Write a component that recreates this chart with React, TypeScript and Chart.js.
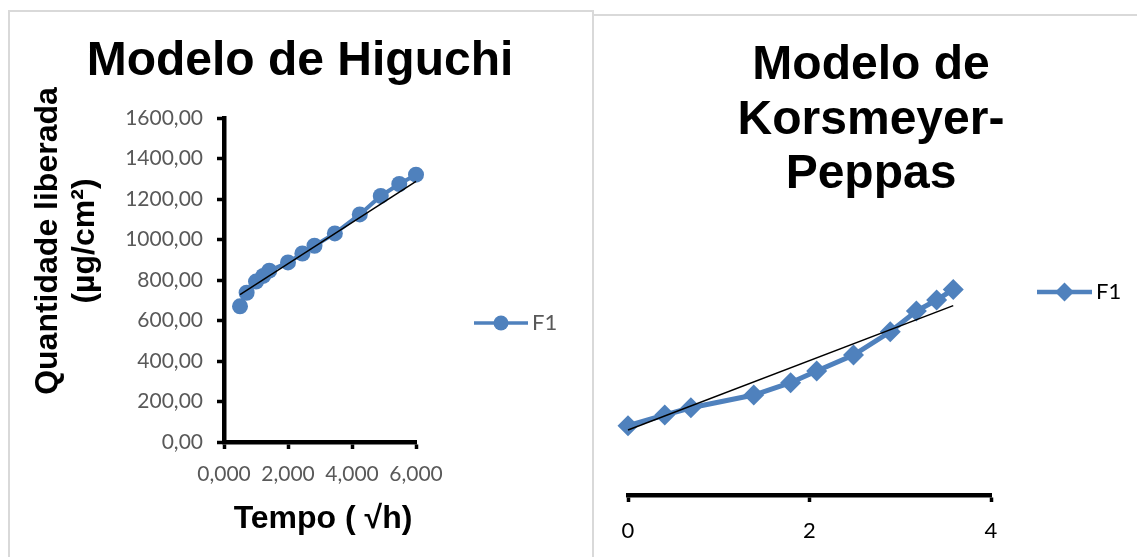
import React, { useEffect, useRef } from "react";
import { Chart, registerables } from "chart.js";

Chart.register(...registerables);

// Higuchi model: released amount vs square root of time
const higuchiSqrtTime = [0.5, 0.707, 1.0, 1.225, 1.414, 2.0, 2.449, 2.828, 3.464, 4.243, 4.899, 5.477, 6.0];
const higuchiReleased = [670, 737, 792, 820, 846, 887, 931, 969, 1030, 1124, 1215, 1274, 1320];
const higuchiTrendX = [0.5, 6.0];
const higuchiTrendY = [728, 1287];

// Korsmeyer-Peppas model: ln(released) vs ln(time)
const kpLnTime = [0, 0.405, 0.693, 1.386, 1.792, 2.079, 2.485, 2.89, 3.178, 3.401, 3.584];
const kpLnReleased = [6.66, 6.7, 6.727, 6.775, 6.821, 6.865, 6.925, 7.012, 7.09, 7.131, 7.171];
const kpTrendX = [0, 3.584];
const kpTrendY = [6.644, 7.11];

const seriesName = "F1";
const higuchiTitle = ["Modelo de Higuchi"];
const kpTitle = ["Modelo de", "Korsmeyer-", "Peppas"];
const higuchiYTitle = ["Quantidade liberada", "(µg/cm²)"];
const higuchiXTitle = "Tempo ( √h)";

const BLUE = "#4F81BD";
const TITLE_FONT = "bold 48px 'Liberation Sans', Arial, sans-serif";
const AXIS_TITLE_FONT = "bold 32px 'Liberation Sans', Arial, sans-serif";
const LABEL_FONT = "Lato";

const toPoints = (xs: number[], ys: number[]) => xs.map((x, i) => ({ x, y: ys[i] }));

// Draws the chart titles, axis titles and an Excel-like legend entry
const panelText = {
  id: "panelText",
  afterDraw(chart: any, _args: any, opts: any) {
    const ctx: CanvasRenderingContext2D = chart.ctx;
    ctx.save();
    ctx.fillStyle = "#000";
    ctx.font = TITLE_FONT;
    ctx.textAlign = "center";
    ctx.textBaseline = "alphabetic";
    opts.title.forEach((line: string, i: number) => {
      ctx.fillText(line, opts.titleX, opts.titleBaselines[i]);
    });

    ctx.font = AXIS_TITLE_FONT;
    if (opts.yTitle) {
      opts.yTitle.forEach((line: string, i: number) => {
        ctx.save();
        ctx.translate(opts.yTitleBaselines[i], opts.yTitleCenter);
        ctx.rotate(-Math.PI / 2);
        ctx.fillText(line, 0, 0);
        ctx.restore();
      });
    }
    if (opts.xTitle) {
      ctx.fillText(opts.xTitle, opts.xTitleX, opts.xTitleBaseline);
    }

    const lg = opts.legend;
    ctx.strokeStyle = BLUE;
    ctx.fillStyle = BLUE;
    ctx.lineWidth = lg.lineWidth;
    ctx.lineCap = "butt";
    ctx.beginPath();
    ctx.moveTo(lg.x, lg.y);
    ctx.lineTo(lg.x + lg.len, lg.y);
    ctx.stroke();
    const cx = lg.x + lg.len / 2;
    ctx.beginPath();
    if (lg.marker === "circle") {
      ctx.arc(cx, lg.y, lg.r, 0, Math.PI * 2);
    } else {
      ctx.moveTo(cx, lg.y - lg.r);
      ctx.lineTo(cx + lg.r, lg.y);
      ctx.lineTo(cx, lg.y + lg.r);
      ctx.lineTo(cx - lg.r, lg.y);
      ctx.closePath();
    }
    ctx.fill();
    ctx.fillStyle = lg.color;
    ctx.font = `22px ${LABEL_FONT}`;
    ctx.textAlign = "left";
    ctx.textBaseline = "middle";
    ctx.fillText(lg.text, lg.x + lg.len + 4, lg.y);
    ctx.restore();
  },
};

const axisLook = {
  grid: {
    display: true,
    drawOnChartArea: false,
    drawTicks: true,
    tickLength: 7,
    tickWidth: 3.5,
    tickColor: "#000",
    color: "#000",
  },
  border: { display: true, color: "#000", width: 4.5 },
};

export default function App() {
  const leftRef = useRef<HTMLCanvasElement>(null);
  const rightRef = useRef<HTMLCanvasElement>(null);

  useEffect(() => {
    const higuchi = new Chart(leftRef.current as HTMLCanvasElement, {
      type: "line",
      data: {
        datasets: [
          {
            label: "trend",
            data: toPoints(higuchiTrendX, higuchiTrendY),
            borderColor: "#000",
            borderWidth: 1.5,
            pointRadius: 0,
            order: 0,
            clip: false,
          },
          {
            label: seriesName,
            data: toPoints(higuchiSqrtTime, higuchiReleased),
            borderColor: BLUE,
            backgroundColor: BLUE,
            pointBackgroundColor: BLUE,
            borderWidth: 4,
            pointRadius: 8,
            pointBorderWidth: 0,
            pointStyle: "circle",
            order: 1,
            clip: false,
          },
        ],
      } as any,
      options: {
        responsive: false,
        animation: false,
        layout: { padding: { top: 118, left: 0, right: 178, bottom: 0 } },
        plugins: {
          legend: { display: false },
          title: { display: false },
          tooltip: { enabled: false },
          panelText: {
            title: higuchiTitle,
            titleX: 300,
            titleBaselines: [75],
            yTitle: higuchiYTitle,
            yTitleBaselines: [57, 94],
            yTitleCenter: 241,
            xTitle: higuchiXTitle,
            xTitleX: 323,
            xTitleBaseline: 528,
            legend: { x: 474, y: 323, len: 54, r: 7.5, lineWidth: 3.5, marker: "circle", text: seriesName, color: "#595959" },
          },
        } as any,
        scales: {
          x: {
            type: "linear",
            min: 0,
            max: 6,
            ...axisLook,
            ticks: {
              stepSize: 2,
              autoSkip: false,
              maxRotation: 0,
              padding: 13,
              color: "#595959",
              font: { family: LABEL_FONT, size: 21 },
              callback: (v: any) => Number(v).toFixed(3).replace(".", ","),
            },
            afterFit: (s: any) => {
              s.height = 115;
            },
          },
          y: {
            type: "linear",
            min: 0,
            max: 1600,
            ...axisLook,
            ticks: {
              stepSize: 200,
              padding: 14,
              color: "#595959",
              font: { family: LABEL_FONT, size: 21 },
              callback: (v: any) => Number(v).toFixed(2).replace(".", ","),
            },
            afterFit: (s: any) => {
              s.width = 224;
            },
          },
        },
      },
      plugins: [panelText as any],
    });

    const peppas = new Chart(rightRef.current as HTMLCanvasElement, {
      type: "line",
      data: {
        datasets: [
          {
            label: "trend",
            data: toPoints(kpTrendX, kpTrendY),
            borderColor: "#000",
            borderWidth: 1.5,
            pointRadius: 0,
            order: 0,
            clip: false,
          },
          {
            label: seriesName,
            data: toPoints(kpLnTime, kpLnReleased),
            borderColor: BLUE,
            backgroundColor: BLUE,
            pointBackgroundColor: BLUE,
            borderWidth: 5,
            pointRadius: 10.5,
            pointBorderWidth: 0,
            pointStyle: "rectRot",
            order: 1,
            clip: false,
          },
        ],
      } as any,
      options: {
        responsive: false,
        animation: false,
        layout: { padding: { top: 255, left: 34, right: 146, bottom: 0 } },
        plugins: {
          legend: { display: false },
          title: { display: false },
          tooltip: { enabled: false },
          panelText: {
            title: kpTitle,
            titleX: 277,
            titleBaselines: [78.5, 133.5, 187.5],
            legend: { x: 443, y: 292, len: 55, r: 9.5, lineWidth: 4.5, marker: "diamond", text: seriesName, color: "#000" },
          },
        } as any,
        scales: {
          x: {
            type: "linear",
            min: 0,
            max: 4,
            ...axisLook,
            ticks: {
              stepSize: 2,
              autoSkip: false,
              maxRotation: 0,
              padding: 16,
              color: "#000",
              font: { family: LABEL_FONT, size: 22 },
            },
            afterFit: (s: any) => {
              s.height = 62;
            },
          },
          y: {
            type: "linear",
            display: false,
            min: 6.4,
            max: 7.3,
          },
        },
      },
      plugins: [panelText as any],
    });

    return () => {
      higuchi.destroy();
      peppas.destroy();
    };
  }, []);

  return (
    <div
      style={{
        position: "fixed",
        left: 0,
        top: 0,
        width: 1137,
        height: 557,
        overflow: "hidden",
        background: "#fff",
      }}
    >
      <div
        style={{
          position: "absolute",
          left: 8,
          top: 10,
          width: 586,
          height: 700,
          boxSizing: "border-box",
          borderLeft: "2px solid #d9d9d9",
          borderTop: "2px solid #d9d9d9",
          borderRight: "2px solid #d9d9d9",
        }}
      />
      <div
        style={{
          position: "absolute",
          left: 594,
          top: 14,
          width: 600,
          height: 700,
          borderTop: "2px solid #d9d9d9",
        }}
      />
      <canvas ref={leftRef} width={594} height={557} style={{ position: "absolute", left: 0, top: 0 }} />
      <canvas ref={rightRef} width={543} height={557} style={{ position: "absolute", left: 594, top: 0 }} />
    </div>
  );
}
